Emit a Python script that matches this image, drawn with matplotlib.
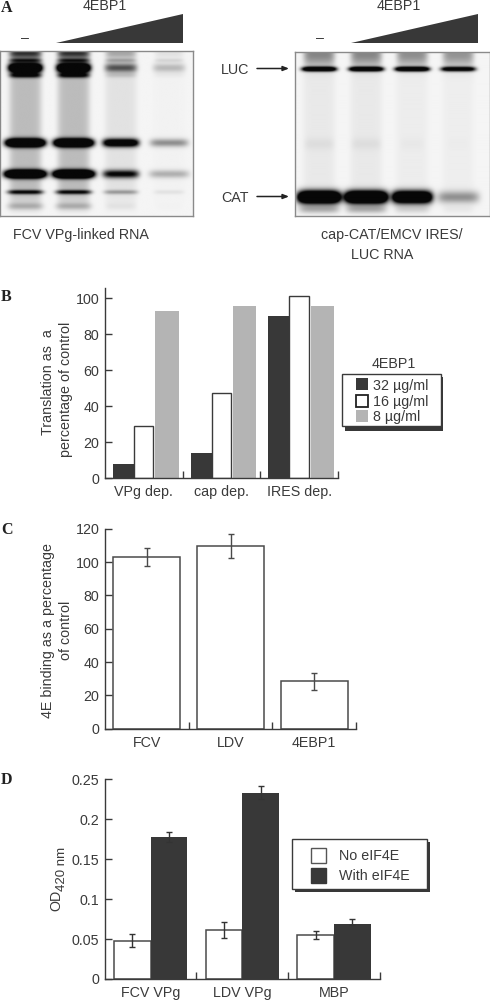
import numpy as np
import matplotlib
matplotlib.use("Agg")
import matplotlib.pyplot as plt
from matplotlib.patches import Rectangle, Polygon

plt.rcParams['font.family'] = ['Liberation Sans', 'DejaVu Sans']
INK = '#3a3a3a'
DARK = '#383838'
GREY = '#b4b4b4'
W, H = 490, 1000

# ---------- data ----------
b_cats = ['VPg dep.', 'cap dep.', 'IRES dep.']
b_32 = [8, 14, 90]
b_16 = [29, 47.5, 101]
b_8 = [93, 95.5, 95.5]
b_doses = ['32 µg/ml', '16 µg/ml', '8 µg/ml']
b_ticks = [0, 20, 40, 60, 80, 100]

c_cats = ['FCV', 'LDV', '4EBP1']
c_vals = [103, 109.5, 28.5]
c_low = [97.5, 102.5, 23.5]
c_high = [108.5, 117, 33.5]
c_ticks = [0, 20, 40, 60, 80, 100, 120]

d_cats = ['FCV VPg', 'LDV VPg', 'MBP']
d_no = [0.048, 0.061, 0.055]
d_with = [0.178, 0.233, 0.069]
d_no_err = [0.008, 0.010, 0.005]
d_with_err = [0.006, 0.008, 0.006]
d_with_low = [0.006, 0.008, 0.002]
d_ticks = [0, 0.05, 0.1, 0.15, 0.2, 0.25]
d_ticklabels = ['0', '0.05', '0.1', '0.15', '0.2', '0.25']

# gel bands: (row px from gel top, thickness, half-width px per lane, darkness per lane)
gelL_lanes = [25, 73, 120, 168]
gelL_bands = [
    (3, 5, [16, 16, 15, 14], [.60, .60, .25, .07]),
    (10, 2, [16, 16, 15, 14], [.55, .55, .22, .10]),
    (17.5, 4.5, [17, 17, 16, 16], [1.9, 1.9, .62, .24]),
    (25, 2.5, [16, 16, 15, 15], [.80, .80, .12, .03]),
    (92, 4, [20, 20, 18, 19], [2.2, 2.2, 1.5, .42]),
    (123, 4, [21, 21, 18, 20], [2.2, 2.2, 1.0, .28]),
    (141, 2.2, [18, 18, 17, 15], [.85, .85, .32, .07]),
    (155, 3.5, [18, 18, 15, 12], [.22, .22, .05, .01]),
]
gelL_smearw = [16, 16, 16, 16]
gelL_smear = [.24, .24, .08, .012]

gelR_lanes = [24, 71, 117, 163]
gelR_bands = [
    (3, 12, [15.5, 15.5, 15.5, 15.5], [.42, .42, .40, .38]),
    (17.7, 2.3, [17.5, 17.5, 17.5, 17.5], [1.6, 1.6, 1.6, 1.3]),
    (92, 6, [15, 15, 12, 10], [.05, .05, .02, .01]),
    (145, 6, [21.5, 21.5, 20, 21], [2.4, 2.4, 2.1, .40]),
    (157, 4, [20, 20, 17, 15], [.28, .28, .13, .04]),
]
gelR_smearw = [16, 16, 16, 16]
gelR_smear = [.05, .05, .035, .03]


def px_axes(x0, y0, x1, y1):
    return fig.add_axes([x0 / W, 1 - y1 / H, (x1 - x0) / W, (y1 - y0) / H])


def gel(x0, y0, x1, y1, lanes, bands, smearw, smear, bg):
    ax = px_axes(x0, y0, x1, y1)
    w, h = x1 - x0, y1 - y0
    yy, xx = np.mgrid[0:h * 2, 0:w * 2] / 2.0
    d = np.zeros_like(xx)
    for i, c in enumerate(lanes):
        prof = np.exp(-np.abs((xx - c) / smearw[i]) ** 6)
        d += smear[i] * prof * np.clip((h - yy) / 25, 0, 1)
        for row, th, hw, dark in bands:
            bp = np.exp(-np.abs((xx - c) / hw[i]) ** 6)
            d += dark[i] * bp * np.exp(-((yy - row) / th) ** 2)
    img = bg - np.clip(d, 0, 1) * (bg - 0.03)
    ax.imshow(img, cmap='gray', vmin=0, vmax=1, aspect='auto', interpolation='bilinear',
              extent=[0, w, h, 0])
    ax.set_xticks([]); ax.set_yticks([])
    for s in ax.spines.values():
        s.set_color('#8a8a8a'); s.set_linewidth(1)
    return ax


def style(ax):
    ax.spines['top'].set_visible(False)
    ax.spines['right'].set_visible(False)
    for s in ('left', 'bottom'):
        ax.spines[s].set_color(INK); ax.spines[s].set_linewidth(1)
    ax.tick_params(axis='y', direction='in', length=5, width=1, color=INK, labelcolor=INK,
                   labelsize=10.3, pad=4)
    ax.tick_params(axis='x', which='major', length=0, labelcolor=INK, labelsize=10.3, pad=5)
    ax.tick_params(axis='x', which='minor', direction='in', length=5, width=1, color=INK)
    ax.patch.set_alpha(0)


fig = plt.figure(figsize=(4.9, 10), dpi=100, facecolor='white')
ov = fig.add_axes([0, 0, 1, 1])
ov.set_xlim(0, W); ov.set_ylim(H, 0); ov.axis('off')

# ---------- panel A ----------
gel(0, 51, 193, 216, gelL_lanes, gelL_bands, gelL_smearw, gelL_smear, 0.96)
gel(295, 52, 490, 216, gelR_lanes, gelR_bands, gelR_smearw, gelR_smear, 0.96)
ov.text(1, 8, 'A', family='Liberation Serif', weight='bold', fontsize=11.5, color='#222', va='center')
for cx, mx, x0, x1 in [(105, 25, 56, 183), (399, 320, 351, 478)]:
    ov.text(cx, 6, '4EBP1', fontsize=10.3, color=INK, ha='center', va='center')
    ov.text(mx, 38, '–', fontsize=10.3, color=INK, ha='center', va='center')
    ov.add_patch(Polygon([(x0, 43), (x1, 43), (x1, 14)], closed=True, fc=DARK, ec='none'))
ov.text(80.5, 235, 'FCV VPg-linked RNA', fontsize=10.3, color=INK, ha='center', va='center')
ov.text(392, 235, 'cap-CAT/EMCV IRES/', fontsize=10.3, color=INK, ha='center', va='center')
ov.text(382, 255, 'LUC RNA', fontsize=10.3, color=INK, ha='center', va='center')
for lab, y in [('LUC', 68.5), ('CAT', 196.5)]:
    ov.text(235, y + 1, lab, fontsize=10.3, color=INK, ha='center', va='center')
    ov.annotate('', xy=(289, y), xytext=(257, y),
                arrowprops=dict(arrowstyle='-|>,head_length=0.35,head_width=0.14', color='#222', lw=1.1,
                                shrinkA=0, shrinkB=0))

# ---------- panel B ----------
ax = px_axes(105, 288, 338, 478.5)
ax.set_xlim(0, 3); ax.set_ylim(0, (478.5 - 288) / 1.802)
style(ax)
bw = 21 / 77.67
off = 8 / 77.67
xpos = np.arange(3)
ax.bar(xpos + off + bw * 0.5, b_32, bw, color=DARK)
ax.bar(xpos + off + bw * 1.5 - 0.01, b_16, bw - 0.02, color='white', edgecolor=INK, lw=1, zorder=1)
ax.bar(xpos + off + bw * 2.5 + 0.02, b_8, bw + 0.03, color=GREY, zorder=2)
ax.set_yticks(b_ticks)
ax.set_xticks(xpos + 0.5); ax.set_xticklabels(b_cats)
ax.set_xticks([1, 2, 3], minor=True)
ov.text(48, 382, 'Translation as  a', rotation=90, fontsize=10.3, color=INK, ha='center', va='center')
ov.text(66, 389, 'percentage of control', rotation=90, fontsize=10.3, color=INK, ha='center', va='center')
ov.text(394, 364, '4EBP1', fontsize=10.3, color=INK, ha='center', va='center')
ov.add_patch(Rectangle((345, 377), 98, 54, fc=DARK, ec='none'))
ov.add_patch(Rectangle((342, 374), 99, 52, fc='white', ec=INK, lw=1))
for y, ly, lab, fc, ec in zip([383.5, 400.5, 416], [386, 402, 417], b_doses, [DARK, 'white', GREY], [DARK, '#222', GREY]):
    ov.add_patch(Rectangle((356, y - 6), 12, 12, fc=fc, ec=ec, lw=1.3 if fc == 'white' else 0))
    ov.text(373, ly, lab, fontsize=10.3, color=INK, va='center')
ov.text(1, 297, 'B', family='Liberation Serif', weight='bold', fontsize=11.5, color='#222', va='center')

# ---------- panel C ----------
ax = px_axes(105, 528.7, 356, 728.7)
ax.set_xlim(0, 3); ax.set_ylim(0, 120)
style(ax)
xpos = np.arange(3) + 0.5
ax.bar(xpos, c_vals, 0.8, color='white', edgecolor='#4a4a4a', lw=1.1)
ax.errorbar(xpos, c_vals, yerr=[np.array(c_vals) - np.array(c_low), np.array(c_high) - np.array(c_vals)],
            fmt='none', ecolor='#4a4a4a', elinewidth=1, capsize=2.2, capthick=1)
ax.set_yticks(c_ticks)
ax.set_xticks(xpos); ax.set_xticklabels(c_cats)
ax.set_xticks([1, 2, 3], minor=True)
ov.text(48, 631, '4E binding as a percentage', rotation=90, fontsize=10.3, color=INK, ha='center', va='center')
ov.text(66, 630, 'of control', rotation=90, fontsize=10.3, color=INK, ha='center', va='center')
ov.text(1, 530, 'C', family='Liberation Serif', weight='bold', fontsize=11.5, color='#222', va='center')

# ---------- panel D ----------
ax = px_axes(104.7, 779.3, 380, 979)
ax.set_xlim(0, 3); ax.set_ylim(0, 0.25)
style(ax)
xpos = np.arange(3)
bw = 36.7 / 91.77
off = 0.5
ax.bar(xpos + off - bw / 2, d_no, bw, color='white', edgecolor='#4a4a4a', lw=1.1)
ax.bar(xpos + off + bw / 2, d_with, bw, color=DARK)
ax.errorbar(xpos + off - bw / 2, d_no, yerr=d_no_err, fmt='none', ecolor='#333', elinewidth=1, capsize=2.2, capthick=1)
ax.errorbar(xpos + off + bw / 2, d_with, yerr=[d_with_low, d_with_err], fmt='none', ecolor='#333',
            elinewidth=1, capsize=2.2, capthick=1)
ax.set_yticks(d_ticks); ax.set_yticklabels(d_ticklabels)
ax.set_xticks(xpos + off); ax.set_xticklabels(d_cats)
ax.set_xticks([1, 2, 3], minor=True)
ov.text(56, 900, 'OD', rotation=90, fontsize=10.3, color=INK, ha='center', va='center')
ov.text(61.5, 868.5, '420 nm', rotation=90, fontsize=9.5, color=INK, ha='center', va='center')
ov.add_patch(Rectangle((295, 842), 135, 50, fc=DARK, ec='none'))
ov.add_patch(Rectangle((292, 839), 135, 50, fc='white', ec=INK, lw=1))
for y, lab, fc in zip([855, 875], ['No eIF4E', 'With eIF4E'], ['white', DARK]):
    ov.add_patch(Rectangle((311, y - 7), 14.5, 14.5, fc=fc, ec='#555' if fc == 'white' else DARK, lw=1))
    ov.text(339, y + 1, lab, fontsize=10.3, color=INK, va='center')
ov.text(1, 780, 'D', family='Liberation Serif', weight='bold', fontsize=11.5, color='#222', va='center')
ov.set_zorder(5)

fig.savefig('out.png', dpi=100, facecolor='white')
